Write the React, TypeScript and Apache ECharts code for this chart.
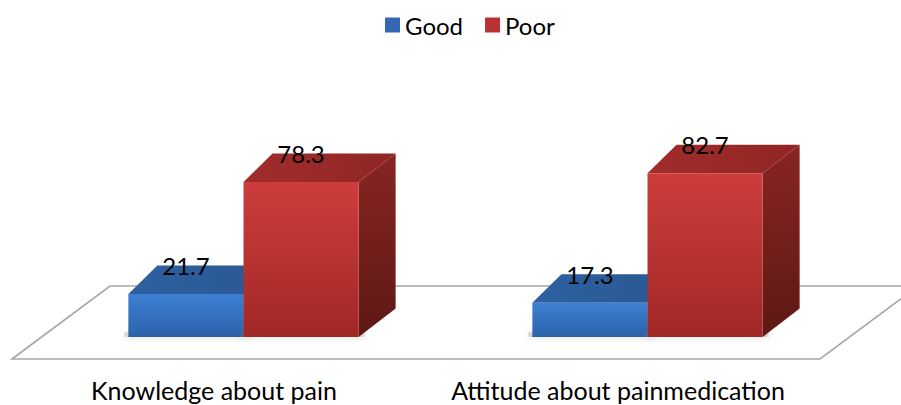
import React, { useEffect, useRef } from "react";
import * as echarts from "echarts";

const categories = ["Knowledge about pain", "Attitude about painmedication"];
const seriesNames = ["Good", "Poor"];
const goodValues = [21.7, 17.3];
const poorValues = [78.3, 82.7];

const FONT = "Lato, 'Open Sans', sans-serif";

const palette = [
  {
    legend: "#3468b0",
    frontTop: "#3d80d4",
    frontBottom: "#2c62aa",
    topA: "#2e60a0",
    topB: "#2a5892",
    sideA: "#24508a",
    sideB: "#1c3f70",
  },
  {
    legend: "#b83232",
    frontTop: "#cd3d3b",
    frontBottom: "#a02826",
    topA: "#a22d2b",
    topB: "#902624",
    sideA: "#882522",
    sideB: "#5e1815",
  },
];

const DXL = 29;
const DXR = 37;
const DY = 28.5;
const BAR_FRAC = 0.285;

function makeBarRender(s: number) {
  return (params: any, api: any) => {
    const idx = api.value(0);
    const val = api.value(1);
    const top = api.coord([idx, val]);
    const base = api.coord([idx, 0]);
    const band = api.size([1, 0])[0];
    const bw = band * BAR_FRAC;
    const x0 = s === 0 ? base[0] - bw : base[0];
    const x1 = x0 + bw;
    const yT = top[1];
    const yB = base[1];
    const c = palette[s];
    return {
      type: "group",
      children: [
        {
          type: "rect",
          shape: { x: x0 - 4, y: yB - 5, width: bw + 10, height: 5 },
          style: {
            fill: "rgba(120,120,120,0.25)",
            shadowBlur: 7,
            shadowOffsetY: 1,
            shadowColor: "rgba(0,0,0,0.45)",
          },
          z2: 0,
        },
        {
          type: "polygon",
          shape: {
            points: [
              [x1, yT],
              [x1 + DXR, yT - DY],
              [x1 + DXR, yB - DY],
              [x1, yB],
            ],
          },
          style: {
            fill: new echarts.graphic.LinearGradient(0, 0, 0, 1, [
              { offset: 0, color: c.sideA },
              { offset: 1, color: c.sideB },
            ]),
          },
          z2: 1,
        },
        {
          type: "polygon",
          shape: {
            points: [
              [x0, yT],
              [x1, yT],
              [x1 + DXR, yT - DY],
              [x0 + DXL, yT - DY],
            ],
          },
          style: {
            fill: new echarts.graphic.LinearGradient(0, 0, 1, 0, [
              { offset: 0, color: c.topA },
              { offset: 1, color: c.topB },
            ]),
          },
          z2: 2,
        },
        {
          type: "rect",
          shape: { x: x0, y: yT, width: bw, height: yB - yT },
          style: {
            fill: new echarts.graphic.LinearGradient(0, 0, 0, 1, [
              { offset: 0, color: c.frontTop },
              { offset: 1, color: c.frontBottom },
            ]),
          },
          z2: 3,
        },
        {
          type: "text",
          x: (x0 + x1) / 2,
          y: yT - DY,
          style: {
            text: String(val),
            fill: "#000",
            font: `24px ${FONT}`,
            align: "center",
            verticalAlign: "middle",
          },
          z2: 10,
        },
      ],
    };
  };
}

function floorRender(params: any, api: any) {
  const cs = params.coordSys;
  const left = cs.x;
  const right = cs.x + cs.width;
  const base = cs.y + cs.height;
  const FRONT_DY = 22;
  const FRONT_DX = -29.5;
  const BACK_DY = -51;
  const BACK_DX = 68.5;
  return {
    type: "polygon",
    shape: {
      points: [
        [left + FRONT_DX, base + FRONT_DY],
        [left + BACK_DX, base + BACK_DY],
        [right + BACK_DX, base + BACK_DY],
        [right + FRONT_DX, base + FRONT_DY],
      ],
    },
    style: { fill: "#ffffff", stroke: "#a6a6a6", lineWidth: 1.6 },
    z2: 0,
  };
}

export default function App() {
  const ref = useRef<HTMLDivElement>(null);
  useEffect(() => {
    document.body.style.margin = "0";
    const chart = echarts.init(ref.current!, null, { renderer: "svg" });
    const goodData = goodValues.map((v, i) => [i, v]);
    const poorData = poorValues.map((v, i) => [i, v]);
    chart.setOption({
      animation: false,
      backgroundColor: "#ffffff",
      legend: {
        data: seriesNames.map((n) => ({ name: n, icon: "rect" })),
        left: 385,
        top: 12,
        padding: 0,
        itemWidth: 15,
        itemHeight: 15,
        itemGap: 22,
        textStyle: { fontFamily: FONT, fontSize: 24, color: "#000", lineHeight: 26 },
      },
      grid: [
        { left: 41.5, right: 51.5, top: 139, bottom: 68 },
        { left: 12, right: 81, top: 139, bottom: 46 },
      ],
      xAxis: [
        { type: "category", data: categories, gridIndex: 0, show: false },
        {
          type: "category",
          data: categories,
          gridIndex: 1,
          axisLine: { show: false },
          axisTick: { show: false },
          axisLabel: {
            fontFamily: FONT,
            fontSize: 25,
            color: "#000",
            margin: 18,
            interval: 0,
          },
        },
      ],
      yAxis: [
        { type: "value", min: 0, max: 100, gridIndex: 0, show: false },
        { type: "value", min: 0, max: 100, gridIndex: 1, show: false },
      ],
      series: [
        {
          type: "custom",
          name: "floor",
          xAxisIndex: 0,
          yAxisIndex: 0,
          data: [[0, 0]],
          renderItem: floorRender,
          z: 1,
          silent: true,
        },
        {
          type: "custom",
          name: seriesNames[0],
          xAxisIndex: 0,
          yAxisIndex: 0,
          data: goodData,
          encode: { x: 0, y: 1 },
          itemStyle: { color: palette[0].legend },
          renderItem: makeBarRender(0),
          z: 2,
        },
        {
          type: "custom",
          name: seriesNames[1],
          xAxisIndex: 0,
          yAxisIndex: 0,
          data: poorData,
          encode: { x: 0, y: 1 },
          itemStyle: { color: palette[1].legend },
          renderItem: makeBarRender(1),
          z: 3,
        },
      ],
    });
    return () => chart.dispose();
  }, []);
  return <div ref={ref} style={{ width: 901, height: 405 }} />;
}
